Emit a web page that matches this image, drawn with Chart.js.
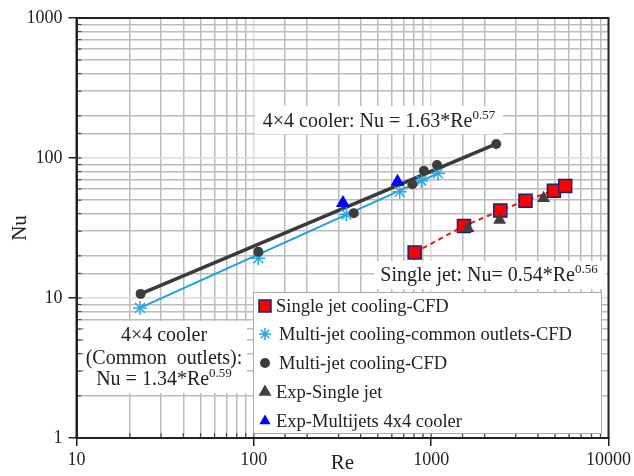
<!DOCTYPE html>
<html>
<head>
<meta charset="utf-8">
<script src="https://cdn.jsdelivr.net/npm/chart.js@4.4.1/dist/chart.umd.min.js"></script>
<style>
  html, body { margin: 0; padding: 0; background: #fff; }
  #wrap { width: 634px; height: 476px; position: relative; }
</style>
</head>
<body>
<div id="wrap"><canvas id="chart" width="634" height="476"></canvas></div>
<script>
// values (Re, Nu)
const reMulti = [23, 106, 366, 783, 910, 1079, 2328];
const nuMulti = [10.7, 21.4, 40.3, 65, 81, 89, 126];
const reCommon = [22.8, 106, 333, 665, 881, 1092];
const nuCommon = [8.5, 19.2, 39.5, 57.4, 68.9, 77.8];
const reSingle = [807, 1531, 2454, 3405, 4920, 5700];
const nuSingle = [21.1, 32.7, 42.1, 49.6, 58.4, 63.1];
const reExpSingle = [1611, 2432, 4306];
const nuExpSingle = [31.5, 36.1, 51.5];
const reExpMulti = [318, 646];
const nuExpMulti = [47.7, 67.8];
// drawn fit lines (end points)
const reFitMulti = [23, 2328];
const nuFitMulti = [10.7, 126];
const reFitCommon = [22.8, 1100];
const nuFitCommon = [8.5, 78];

const xTicks = [10, 100, 1000, 10000];
const yTicks = [1, 10, 100, 1000];

const legendLabels = [
  "Single jet cooling-CFD",
  "Multi-jet cooling-common outlets-CFD",
  "Multi-jet cooling-CFD",
  "Exp-Single jet",
  "Exp-Multijets 4x4 cooler"
];

const SERIF = '"Liberation Serif", "Times New Roman", serif';

const pts = (xs, ys) => xs.map((x, i) => ({ x: x, y: ys[i] }));
const isMajor = (v) => Math.abs(Math.log10(v) - Math.round(Math.log10(v))) < 1e-6;

function drawMarker(ctx, kind, x, y) {
  ctx.save();
  ctx.beginPath();
  if (kind === "square") {
    ctx.fillStyle = "#ff0000";
    ctx.strokeStyle = "#1f1f6e";
    ctx.lineWidth = 1.5;
    ctx.rect(x - 6, y - 6, 12, 12);
    ctx.fill();
    ctx.stroke();
  } else if (kind === "star") {
    ctx.strokeStyle = "#29aae1";
    ctx.lineWidth = 1.6;
    const r = 6;
    for (let a = 0; a < 4; a++) {
      const ang = a * Math.PI / 4;
      ctx.moveTo(x - r * Math.cos(ang), y - r * Math.sin(ang));
      ctx.lineTo(x + r * Math.cos(ang), y + r * Math.sin(ang));
    }
    ctx.stroke();
  } else if (kind === "circle") {
    ctx.fillStyle = "#3d3d3d";
    ctx.arc(x, y, 5, 0, Math.PI * 2);
    ctx.fill();
  } else {
    ctx.fillStyle = kind === "tri" ? "#404040" : "#0000ff";
    const r = kind === "tri" ? 7.5 : 6.5;
    ctx.moveTo(x, y - r);
    ctx.lineTo(x + r * 0.866, y + r * 0.5);
    ctx.lineTo(x - r * 0.866, y + r * 0.5);
    ctx.closePath();
    ctx.fill();
  }
  ctx.restore();
}

// main text followed by a raised exponent, centred on cx
function supText(ctx, main, sup, cx, baseY) {
  ctx.font = "20px " + SERIF;
  const w1 = ctx.measureText(main).width;
  ctx.font = "13px " + SERIF;
  const w2 = ctx.measureText(sup).width;
  const x0 = cx - (w1 + w2) / 2;
  ctx.textAlign = "left";
  ctx.textBaseline = "alphabetic";
  ctx.font = "20px " + SERIF;
  ctx.fillText(main, x0, baseY);
  ctx.font = "13px " + SERIF;
  ctx.fillText(sup, x0 + w1, baseY - 8);
}

const decor = {
  id: "decor",
  beforeDatasetsDraw(chart) {
    const ctx = chart.ctx;
    const a = chart.chartArea;
    ctx.save();
    // short inner tick marks
    ctx.strokeStyle = "#333";
    ctx.lineWidth = 1;
    chart.scales.x.ticks.forEach((t) => {
      const px = chart.scales.x.getPixelForValue(t.value);
      ctx.beginPath();
      ctx.moveTo(px, a.bottom);
      ctx.lineTo(px, a.bottom - 5);
      ctx.stroke();
    });
    chart.scales.y.ticks.forEach((t) => {
      const py = chart.scales.y.getPixelForValue(t.value);
      ctx.beginPath();
      ctx.moveTo(a.left, py);
      ctx.lineTo(a.left + 5, py);
      ctx.stroke();
    });
    // white boxes behind the equations
    ctx.fillStyle = "#fff";
    ctx.fillRect(255, 106, 248, 28);
    ctx.fillRect(374, 261, 232, 28);
    ctx.fillRect(84, 321, 163, 72);
    ctx.fillStyle = "#222";
    supText(ctx, "4\u00d74 cooler: Nu = 1.63*Re", "0.57", 379, 127);
    supText(ctx, "Single jet: Nu= 0.54*Re", "0.56", 489, 281);
    ctx.textAlign = "center";
    ctx.font = "20px " + SERIF;
    ctx.fillText("4\u00d74 cooler", 164, 341);
    ctx.fillText("(Common  outlets):", 164, 364);
    supText(ctx, "Nu = 1.34*Re", "0.59", 164, 385);
    ctx.restore();
  },
  afterDraw(chart) {
    const ctx = chart.ctx;
    const a = chart.chartArea;
    ctx.save();
    ctx.strokeStyle = "#222";
    ctx.lineWidth = 2;
    ctx.strokeRect(a.left, a.top, a.right - a.left, a.bottom - a.top);
    // legend
    ctx.fillStyle = "#fff";
    ctx.fillRect(253, 292, 349, 142);
    ctx.strokeStyle = "#aaa";
    ctx.lineWidth = 1;
    ctx.strokeRect(253.5, 292.5, 348, 141);
    const kinds = ["square", "star", "circle", "tri", "btri"];
    const rows = [306, 334, 363, 392, 421];
    ctx.textBaseline = "middle";
    ctx.textAlign = "left";
    kinds.forEach((k, i) => {
      drawMarker(ctx, k, 265, rows[i]);
      ctx.fillStyle = "#222";
      ctx.font = "18.5px " + SERIF;
      ctx.fillText(legendLabels[i], k === "star" || k === "circle" ? 279 : 276, rows[i] + 1);
    });
    ctx.restore();
  }
};

const axisCommon = {
  type: "logarithmic",
  border: { display: true, color: "#222", width: 2 },
  grid: {
    color: (c) => (c.tick && isMajor(c.tick.value) ? "#dcdcdc" : "#bcbcbc"),
    lineWidth: 1.5,
    tickLength: 8,
    tickColor: (c) => (c.tick && isMajor(c.tick.value) ? "#222" : "rgba(0,0,0,0)")
  }
};

new Chart(document.getElementById("chart"), {
  type: "scatter",
  data: {
    datasets: [
      {
        label: legendLabels[4], data: pts(reExpMulti, nuExpMulti),
        pointStyle: "triangle", pointRadius: 8, backgroundColor: "#0000ff", borderColor: "#0000ff", borderWidth: 0
      },
      {
        label: legendLabels[3], data: pts(reExpSingle, nuExpSingle),
        pointStyle: "triangle", pointRadius: 7.5, backgroundColor: "#404040", borderColor: "#404040", borderWidth: 0
      },
      {
        label: legendLabels[0], data: pts(reSingle, nuSingle), showLine: true,
        borderColor: "#ee1111", borderWidth: 2, borderDash: [5, 4],
        pointStyle: "rect", pointRadius: 9.2, pointBackgroundColor: "#ff0000",
        pointBorderColor: "#1f1f6e", pointBorderWidth: 1.5
      },
      {
        label: legendLabels[2], data: pts(reMulti, nuMulti),
        pointStyle: "circle", pointRadius: 5, backgroundColor: "#3d3d3d", borderColor: "#3d3d3d", borderWidth: 0
      },
      {
        label: legendLabels[1], data: pts(reCommon, nuCommon),
        pointStyle: "star", pointRadius: 7, borderColor: "#29aae1", backgroundColor: "#29aae1", borderWidth: 1.5
      },
      {
        label: "fit multi", data: pts(reFitMulti, nuFitMulti), showLine: true,
        borderColor: "#3a3a3a", borderWidth: 3.5, pointRadius: 0
      },
      {
        label: "fit common", data: pts(reFitCommon, nuFitCommon), showLine: true,
        borderColor: "#1ea0e0", borderWidth: 2, pointRadius: 0
      }
    ]
  },
  options: {
    responsive: false,
    animation: false,
    layout: { padding: { left: 0, top: 18, right: 25, bottom: 0 } },
    plugins: { legend: { display: false }, tooltip: { enabled: false } },
    scales: {
      x: Object.assign({}, axisCommon, {
        position: "bottom", min: 10, max: 10000,
        ticks: {
          autoSkip: false, maxRotation: 0, padding: 3, color: "#222",
          font: { family: SERIF, size: 18 },
          callback: (v) => (xTicks.includes(v) ? String(v) : "")
        },
        title: { display: true, text: "Re", color: "#222", font: { family: SERIF, size: 21 }, padding: { top: 0, bottom: 0 } },
        afterFit: (s) => { s.height = 38; }
      }),
      y: Object.assign({}, axisCommon, {
        position: "left", min: 1, max: 1000,
        ticks: {
          autoSkip: false, padding: 6, color: "#222",
          font: { family: SERIF, size: 18 },
          callback: (v) => (yTicks.includes(v) ? String(v) : "")
        },
        title: { display: true, text: "Nu", color: "#222", font: { family: SERIF, size: 21 }, padding: { top: 8, bottom: 0 } },
        afterFit: (s) => { s.width = 76.5; }
      })
    }
  },
  plugins: [decor]
});
</script>
</body>
</html>
